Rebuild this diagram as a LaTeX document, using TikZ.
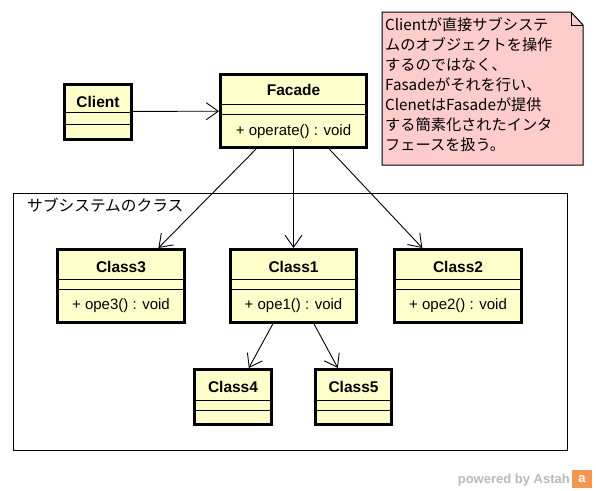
\documentclass[tikz,border=0pt]{standalone}
\usepackage{fontspec}
\setmainfont{Liberation Sans}
\newfontfamily\jp{Noto Sans CJK JP}
\usetikzlibrary{arrows.meta}
\definecolor{clsfill}{RGB}{255,255,204}
\definecolor{notefill}{RGB}{255,204,204}
\definecolor{wmgray}{RGB}{185,185,185}
\definecolor{astahorange}{RGB}{245,150,80}
\begin{document}
\begin{tikzpicture}[x=1pt,y=-1pt,
  cls/.style={draw, line width=3pt, fill=clsfill, inner sep=0pt},
  sep/.style={line width=1pt},
  cname/.style={font=\fontsize{15.5}{17}\selectfont\bfseries, inner sep=0pt},
  optext/.style={font=\fontsize{15}{17}\selectfont, inner sep=0pt},
  notetxt/.style={font=\jp\fontsize{15.2}{17}\selectfont, inner sep=0pt, anchor=west},
  dep/.style={line width=0.9pt, -{Straight Barb[length=12pt,width=17pt]}},
]
\useasboundingbox (0,0) rectangle (596,490);

% note
\draw[line width=1pt, fill=notefill] (382,12) -- (571,12) -- (583,25) -- (583,165) -- (382,165) -- cycle;
\draw[line width=1pt] (571,12) -- (571,25) -- (583,25);
\foreach \t [count=\i] in {Clientが直接サブシステ, ムのオブジェクトを操作, するのではなく、, Fasadeがそれを行い、, ClenetはFasadeが提供, する簡素化されたインタ, フェースを扱う。}
  \node[notetxt] (note\i) at (385,4.5+20*\i) {\t};

% package frame
\node[draw, line width=1pt, minimum width=554pt, minimum height=257pt, inner sep=0pt] (pkg) at (290.5,322) {};
\node[notetxt, font=\jp\fontsize{15.7}{17}\selectfont] (pkglabel) at (27,205) {サブシステムのクラス};

% classes
\node[cls, minimum width=67pt, minimum height=55pt] (client) at (98,111.5) {};
\node[cls, minimum width=146pt, minimum height=73pt] (facade) at (293.5,111) {};
\node[cls, minimum width=127pt, minimum height=73pt] (class3) at (121,286) {};
\node[cls, minimum width=126pt, minimum height=73pt] (class1) at (293.5,286) {};
\node[cls, minimum width=127pt, minimum height=73pt] (class2) at (458,286) {};
\node[cls, minimum width=77pt, minimum height=55pt] (class4) at (233,397) {};
\node[cls, minimum width=76pt, minimum height=55pt] (class5) at (353.5,397) {};

\foreach \n/\a/\b in {client/30/42, facade/31/41, class3/31/41, class1/31/41, class2/31/41, class4/32/42, class5/32/42}{
  \draw[sep] ([yshift=-\a pt]\n.north west) -- ([yshift=-\a pt]\n.north east);
  \draw[sep] ([yshift=-\b pt]\n.north west) -- ([yshift=-\b pt]\n.north east);
}

\node[cname] (client-n) at (98,102) {Client};
\node[cname] (facade-n) at (293.5,90) {Facade};
\node[optext] (facade-op) at (293.5,131.5) {+ operate() : void};
\node[cname] (class3-n) at (121,267) {Class3};
\node[optext] (class3-op) at (121,306) {+ ope3() : void};
\node[cname] (class1-n) at (293.5,267) {Class1};
\node[optext] (class1-op) at (293.5,306) {+ ope1() : void};
\node[cname] (class2-n) at (458,267) {Class2};
\node[optext] (class2-op) at (458,306) {+ ope2() : void};
\node[cname] (class4-n) at (233,387) {Class4};
\node[cname] (class5-n) at (353.5,387) {Class5};

% connectors
\draw[dep] (client) -- (facade);
\draw[dep] (facade) -- (class3);
\draw[dep] (facade) -- (class1);
\draw[dep] (facade) -- (class2);
\draw[dep] (class1) -- (class4);
\draw[dep] (class1) -- (class5);

% watermark
\node[anchor=base east, text=wmgray, font=\fontsize{13}{13}\selectfont\bfseries, inner sep=0pt] (wm) at (570,483) {powered by Astah};
\node[fill=astahorange, minimum width=20pt, minimum height=18pt, inner sep=0pt, text=white, font=\fontsize{13}{13}\selectfont\bfseries] (logo) at (582,479) {a};
\end{tikzpicture}
\end{document}
